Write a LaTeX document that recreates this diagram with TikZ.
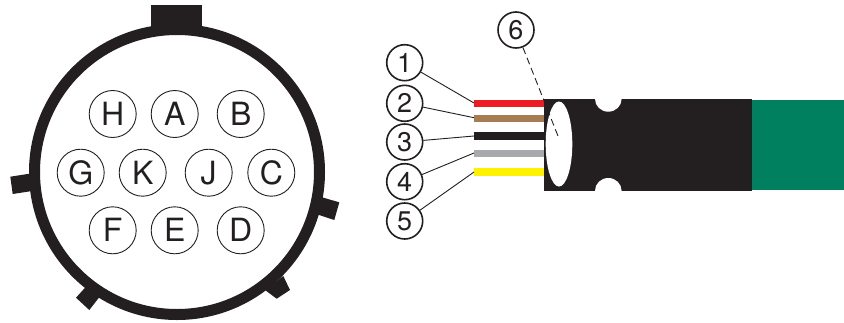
\documentclass[tikz,border=0pt]{standalone}
\usepackage{fontspec}
\setmainfont{TeX Gyre Heros}
\definecolor{inkblack}{HTML}{231F20}
\definecolor{wirered}{HTML}{ED1C24}
\definecolor{wirebrown}{HTML}{A67C52}
\definecolor{wiregray}{HTML}{A7A9AC}
\definecolor{wireyellow}{HTML}{FFF200}
\definecolor{jacketgreen}{HTML}{00805F}
\tikzset{
  pin/.style={draw=inkblack,circle,line width=0.9pt,minimum size=47pt,inner sep=0pt,text=inkblack,font=\fontsize{32}{32}\selectfont},
  callout/.style={draw=inkblack,circle,line width=1.6pt,minimum size=36pt,inner sep=0pt,text=inkblack,font=\fontsize{27}{27}\selectfont},
  leader/.style={draw=inkblack,line width=0.9pt},
  wire/.style={fill=#1,draw=none}
}
\begin{document}
\begin{tikzpicture}[x=1pt,y=-1pt]
	\useasboundingbox (0,0) rectangle (844,322);
	% connector shell
	\fill[inkblack] (150.7,5.3) rectangle (201.7,32);
	\fill[inkblack] (10.3,176.7)--(32,173.3)--(34,190.7)--(12.7,194)--cycle;
	\fill[inkblack] (322,197.3)--(339.3,202.3)--(334.3,220)--(316,214)--cycle;
	\fill[inkblack] (86,286.7)--(76,297.7)--(89.3,310)--(101,295)--cycle;
	\fill[inkblack] (283.3,276)--(290,290)--(276.7,298.7)--(265,290)--cycle;
	\draw[inkblack,line width=11pt] (177,172) circle (142.5pt);
	% pins
	\node[pin] (pinH) at (112.7,114) {H};
	\node[pin] (pinA) at (174.7,114) {A};
	\node[pin] (pinB) at (240.7,114) {B};
	\node[pin] (pinG) at (80.7,172.7) {G};
	\node[pin] (pinK) at (142.7,172.7) {K};
	\node[pin] (pinJ) at (208.7,172.7) {J};
	\node[pin] (pinC) at (271.3,172.7) {C};
	\node[pin] (pinF) at (112.7,230.3) {F};
	\node[pin] (pinE) at (174.7,230.3) {E};
	\node[pin] (pinD) at (240.7,230.3) {D};
	% cable
	\fill[jacketgreen] (752,100) rectangle (844,190);
	\fill[inkblack] (543.5,99) rectangle (752,190.7);
	\fill[white] (608.3,99) ellipse [x radius=13.3pt,y radius=12.7pt];
	\fill[white] (608.3,190.7) ellipse [x radius=13.3pt,y radius=12.7pt];
	\fill[white] (559,144) ellipse [x radius=13.3pt,y radius=42.5pt];
	% wires
	\fill[wire=wirered] (474,100) rectangle (543.5,107.3);
	\fill[wire=wirebrown] (474,114.7) rectangle (543.5,122);
	\fill[wire=inkblack] (474,132.3) rectangle (543.5,139.7);
	\fill[wire=wiregray] (474,150) rectangle (543.5,157);
	\fill[wire=wireyellow] (474,168.3) rectangle (543.5,175.7);
	\coordinate (endA) at (474,103);
	\coordinate (endB) at (474,117.7);
	\coordinate (endC) at (474,136);
	\coordinate (endD) at (474,153);
	\coordinate (endE) at (474,172);
	\coordinate (endF) at (559.3,139.3);
	% callouts
	\node[callout] (numA) at (404.7,62.7) {1};
	\node[callout] (numB) at (404.7,103.3) {2};
	\node[callout] (numC) at (404.7,142) {3};
	\node[callout] (numD) at (404.7,181.7) {4};
	\node[callout] (numE) at (404.7,221) {5};
	\node[callout] (numF) at (516,30) {6};
	\draw[leader] (numA) -- (endA);
	\draw[leader] (numB) -- (endB);
	\draw[leader] (numC) -- (endC);
	\draw[leader] (numD) -- (endD);
	\draw[leader] (numE) -- (endE);
	\draw[leader,dash pattern=on 7pt off 4pt] (numF) -- (endF);
\end{tikzpicture}
\end{document}
